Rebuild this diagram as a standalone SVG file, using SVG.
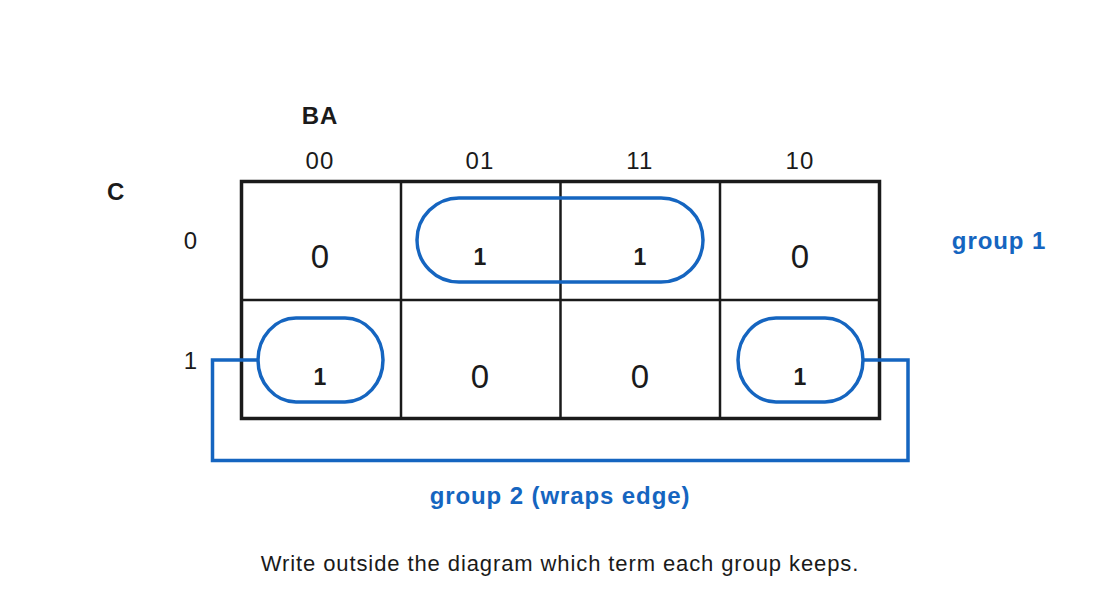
<svg xmlns="http://www.w3.org/2000/svg" width="1120" height="600" viewBox="0 0 1120 600">
<style>
text{font-family:"Liberation Sans",Arial,sans-serif;fill:#1a1a1a}
.hdr{font-size:24px;text-anchor:middle;letter-spacing:1.2px}
.big{font-size:33px;text-anchor:middle}
.one{font-size:23px;font-weight:bold;text-anchor:middle}
.lbl{font-size:24px;font-weight:bold;letter-spacing:0.8px}
.blue{fill:#1565c0;font-size:24px;font-weight:bold;letter-spacing:0.9px}
.grid{fill:none;stroke:#1a1a1a}
.loop{fill:none;stroke:#1565c0;stroke-width:3.5}
</style>
<rect width="1120" height="600" fill="#fff"/>
<g id="axes">
<text class="lbl" x="320" y="124" text-anchor="middle">BA</text>
<text class="lbl" x="116" y="200" text-anchor="middle">C</text>
<text class="hdr" x="320" y="169">00</text>
<text class="hdr" x="480" y="169">01</text>
<text class="hdr" x="640" y="169">11</text>
<text class="hdr" x="800" y="169">10</text>
<text class="hdr" x="191" y="249">0</text>
<text class="hdr" x="191" y="369">1</text>
</g>
<g id="grid">
<rect class="grid" x="241.5" y="181.5" width="638" height="237" stroke-width="3.5"/>
<line class="grid" x1="401" y1="181" x2="401" y2="419" stroke-width="2.5"/>
<line class="grid" x1="560.5" y1="181" x2="560.5" y2="419" stroke-width="2.5"/>
<line class="grid" x1="720" y1="181" x2="720" y2="419" stroke-width="2.5"/>
<line class="grid" x1="241" y1="300" x2="880" y2="300" stroke-width="2.5"/>
</g>
<g id="cells">
<text class="big" x="320" y="268">0</text>
<text class="one" x="480" y="265">1</text>
<text class="one" x="640" y="265">1</text>
<text class="big" x="800" y="268">0</text>
<text class="one" x="320" y="385">1</text>
<text class="big" x="480" y="388">0</text>
<text class="big" x="640" y="388">0</text>
<text class="one" x="800" y="385">1</text>
</g>
<g id="group1">
<rect class="loop" x="417" y="198" width="286" height="84" rx="42" ry="42"/>
<text class="blue" x="999" y="249" text-anchor="middle">group 1</text>
</g>
<g id="group2">
<rect class="loop" x="258" y="318" width="125" height="84" rx="38" ry="42"/>
<rect class="loop" x="738" y="318" width="125" height="84" rx="38" ry="42"/>
<text class="blue" x="560" y="504" text-anchor="middle">group 2 (wraps edge)</text>
</g>
<g id="connectors">
<polyline class="loop" stroke-width="3" points="258,360 212.5,360 212.5,460.5 908,460.5 908,360 863,360"/>
</g>
<text x="560" y="571" font-size="22" letter-spacing="0.9" text-anchor="middle">Write outside the diagram which term each group keeps.</text>
</svg>
